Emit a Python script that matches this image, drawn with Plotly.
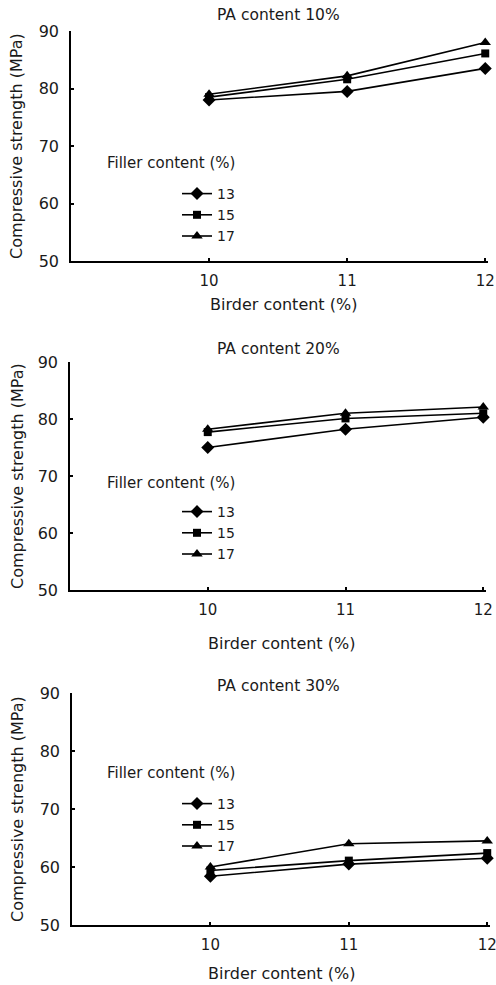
import plotly.graph_objects as go

binder = [10, 11, 12]
filler_labels = ["13", "15", "17"]
symbols = ["diamond", "square", "triangle-up"]
marker_sizes = [10, 8, 10]
panel_titles = ["PA content 10%", "PA content 20%", "PA content 30%"]

pa10_f13 = [78.0, 79.5, 83.5]
pa10_f15 = [78.5, 81.6, 86.1]
pa10_f17 = [79.0, 82.2, 88.0]

pa20_f13 = [75.0, 78.2, 80.3]
pa20_f15 = [77.7, 80.1, 81.0]
pa20_f17 = [78.2, 81.0, 82.1]

pa30_f13 = [58.4, 60.5, 61.5]
pa30_f15 = [59.4, 61.1, 62.4]
pa30_f17 = [60.0, 64.0, 64.5]

panels = [
    [pa10_f13, pa10_f15, pa10_f17],
    [pa20_f13, pa20_f15, pa20_f17],
    [pa30_f13, pa30_f15, pa30_f17],
]

W, H = 496, 985
FONT = "DejaVu Sans, Arial, sans-serif"
TXT = "#1a1a1a"

# pixel geometry of each panel: (x_left, x_right, y_top, y_bottom)
geom = [(71, 488, 31, 261), (70, 486, 362, 590), (72, 490, 693, 925)]
legend_tops = [178, 496, 788]
filler_title_y = [163, 483, 773]
ptitle_y = [15, 349, 686]
xtitle_y = [305, 643, 973]
xtitle_x = [283, 281, 281]

fig = go.Figure()
layout = dict(
    width=W, height=H,
    margin=dict(l=0, r=0, t=0, b=0, autoexpand=False),
    paper_bgcolor="white", plot_bgcolor="white",
    font=dict(family=FONT, size=15, color=TXT),
    showlegend=True,
)
annotations = []
for p, series in enumerate(panels):
    idx = "" if p == 0 else str(p + 1)
    xl, xr, yt, yb = geom[p]
    leg = "legend" if p == 0 else f"legend{p + 1}"
    for s, vals in enumerate(series):
        fig.add_trace(go.Scatter(
            x=binder, y=vals, mode="lines+markers",
            name=filler_labels[s],
            line=dict(color="black", width=1.6),
            marker=dict(symbol=symbols[s], size=marker_sizes[s], color="black"),
            xaxis="x" + idx, yaxis="y" + idx,
            legend=leg, cliponaxis=False,
        ))
    layout["xaxis" + idx] = dict(
        domain=[xl / W, xr / W], anchor="y" + idx,
        range=[9.0, 12.02], tickvals=binder, ticktext=[str(b) for b in binder],
        showline=True, linecolor="black", linewidth=1.5,
        ticks="inside", ticklen=3, tickcolor="black", tickwidth=1.5,
        ticklabelstandoff=5, ticklabeloverflow="allow",
        showgrid=False, zeroline=False, automargin=False,
        tickfont=dict(size=15, color=TXT),
    )
    layout["yaxis" + idx] = dict(
        domain=[1 - yb / H, 1 - yt / H], anchor="x" + idx,
        range=[50, 90], tickvals=[50, 60, 70, 80, 90],
        showline=True, linecolor="black", linewidth=1.5,
        ticks="inside", ticklen=3, tickcolor="black", tickwidth=1.5,
        ticklabelstandoff=7, ticklabeloverflow="allow",
        showgrid=False, zeroline=False, automargin=False,
        tickfont=dict(size=16, color=TXT),
    )
    layout[leg] = dict(
        x=177 / W, y=1 - legend_tops[p] / H, xanchor="left", yanchor="top",
        bgcolor="rgba(0,0,0,0)", font=dict(size=14, color=TXT),
        tracegroupgap=0, itemwidth=30,
    )
    common = dict(xref="paper", yref="paper", showarrow=False, yanchor="middle")
    annotations.append(dict(text=panel_titles[p], x=278 / W, y=1 - ptitle_y[p] / H,
                            xanchor="center", font=dict(size=15.5, color=TXT), **common))
    annotations.append(dict(text="Birder content (%)", x=xtitle_x[p] / W, y=1 - xtitle_y[p] / H,
                            xanchor="center", font=dict(size=16, color=TXT), **common))
    annotations.append(dict(text="Compressive strength (MPa)", x=17 / W, y=1 - (yt + yb) / 2 / H,
                            xanchor="center", textangle=-90, font=dict(size=16, color=TXT), **common))
    annotations.append(dict(text="Filler content (%)", x=105 / W, y=1 - filler_title_y[p] / H,
                            xanchor="left", font=dict(size=15, color=TXT), **common))

layout["annotations"] = annotations
fig.update_layout(**layout)
fig.write_html("out.html")
